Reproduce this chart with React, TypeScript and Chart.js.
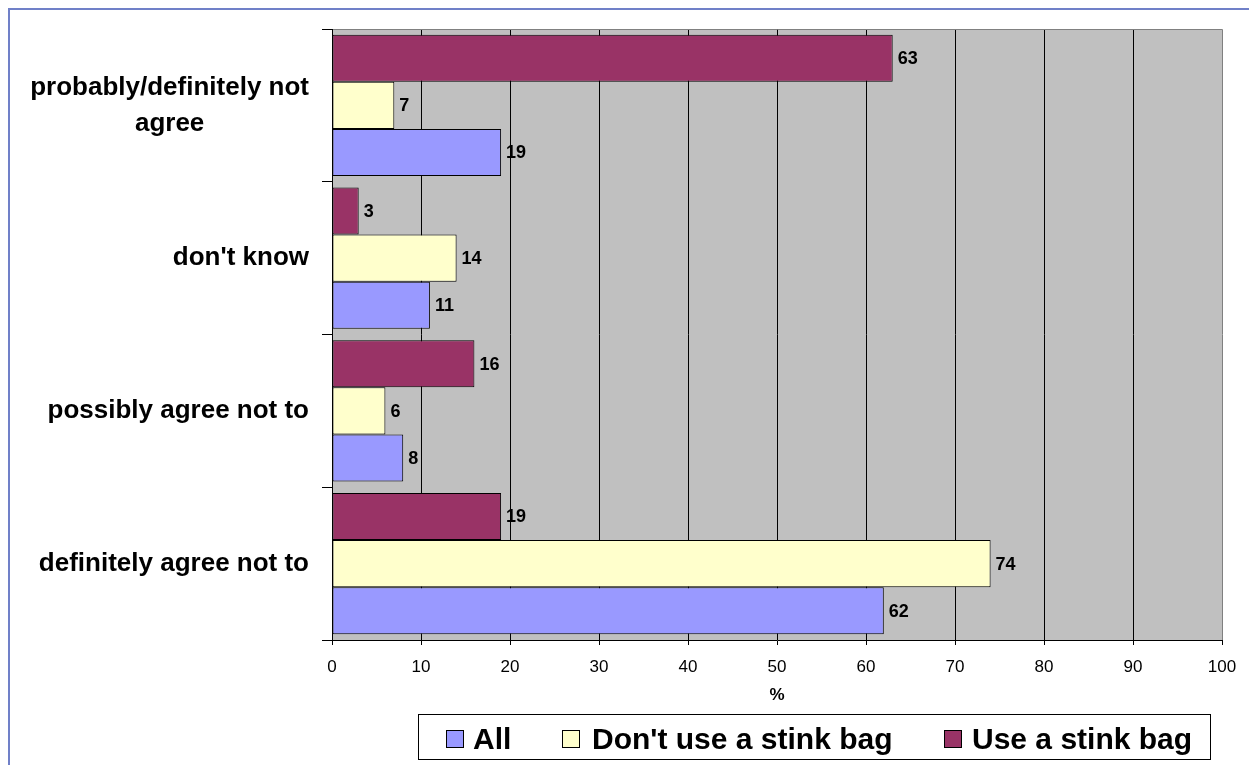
import React, { useEffect, useRef } from "react";
import { Chart, registerables } from "chart.js";

Chart.register(...registerables);

const categories: string[][] = [
  ["probably/definitely not", "agree"],
  ["don't know"],
  ["possibly agree not to"],
  ["definitely agree not to"],
];
const useStinkBag = [63, 3, 16, 19];
const dontUseStinkBag = [7, 14, 6, 74];
const allRespondents = [19, 11, 8, 62];
const xTicks = [0, 10, 20, 30, 40, 50, 60, 70, 80, 90, 100];

const FONT = "'Liberation Sans', Arial, sans-serif";
const C_ALL = "#9999FF";
const C_DONT = "#FFFFCC";
const C_USE = "#993366";

const legendItems = [
  { label: "All", color: C_ALL, left: 28, textLeft: 55 },
  { label: "Don't use a stink bag", color: C_DONT, left: 144, textLeft: 174 },
  { label: "Use a stink bag", color: C_USE, left: 526, textLeft: 554 },
];

const decorPlugin = {
  id: "decor",
  beforeDraw(chart: any) {
    const { ctx, chartArea: a } = chart;
    ctx.save();
    ctx.fillStyle = "#C0C0C0";
    ctx.fillRect(a.left, a.top, a.right - a.left, a.bottom - a.top);
    ctx.restore();
  },
  afterDraw(chart: any) {
    const { ctx, chartArea: a } = chart;
    const yScale = chart.scales.y;
    ctx.save();
    ctx.strokeStyle = "#808080";
    ctx.lineWidth = 1;
    ctx.beginPath();
    ctx.moveTo(a.left, a.top + 0.5);
    ctx.lineTo(a.right + 0.5, a.top + 0.5);
    ctx.lineTo(a.right + 0.5, a.bottom);
    ctx.stroke();
    ctx.strokeStyle = "#000";
    ctx.beginPath();
    ctx.moveTo(a.left + 0.5, a.top);
    ctx.lineTo(a.left + 0.5, a.bottom + 1);
    ctx.stroke();

    ctx.fillStyle = "#000";
    ctx.font = `bold 26px ${FONT}`;
    ctx.textAlign = "center";
    ctx.textBaseline = "middle";
    const rightEdge = 299;
    const lh = 36;
    categories.forEach((lines, i) => {
      const cy = yScale.getPixelForValue(i);
      const w = Math.max(...lines.map((l) => ctx.measureText(l).width));
      const cx = rightEdge - w / 2;
      const start = cy - ((lines.length - 1) * lh) / 2;
      lines.forEach((l, j) => ctx.fillText(l, cx, start + j * lh));
    });

    ctx.font = `bold 18px ${FONT}`;
    ctx.textAlign = "left";
    chart.data.datasets.forEach((ds: any, di: number) => {
      const meta = chart.getDatasetMeta(di);
      meta.data.forEach((el: any, i: number) => {
        ctx.fillText(String(ds.data[i]), el.x + 5, el.y + 1);
      });
    });

    ctx.font = `bold 17px ${FONT}`;
    ctx.textAlign = "center";
    ctx.fillText("%", (a.left + a.right) / 2, 685);
    ctx.restore();
  },
};

export default function App() {
  const ref = useRef<HTMLCanvasElement | null>(null);
  useEffect(() => {
    if (!ref.current) return;
    const chart = new Chart(ref.current, {
      type: "bar",
      data: {
        labels: categories.map((c) => c.join(" ")),
        datasets: [
          { label: "Use a stink bag", data: useStinkBag, backgroundColor: C_USE },
          { label: "Don't use a stink bag", data: dontUseStinkBag, backgroundColor: C_DONT },
          { label: "All", data: allRespondents, backgroundColor: C_ALL },
        ].map((d) => ({
          ...d,
          borderColor: "#000",
          borderWidth: 1,
          borderSkipped: false,
          categoryPercentage: 0.925,
          barPercentage: 1,
        })),
      },
      options: {
        indexAxis: "y",
        animation: false,
        responsive: false,
        layout: { padding: { top: 19, right: 35, left: 0, bottom: 0 } },
        plugins: { legend: { display: false }, tooltip: { enabled: false } },
        scales: {
          x: {
            min: 0,
            max: 100,
            afterBuildTicks: (s: any) => {
              s.ticks = xTicks.map((v) => ({ value: v }));
            },
            afterFit: (s: any) => {
              s.height = 125;
            },
            grid: {
              color: (c: any) => (c.index === 10 ? "rgba(0,0,0,0)" : "#000"),
              tickColor: "#000",
              tickLength: 5,
              lineWidth: 1,
            },
            border: { display: true, color: "#000", width: 1 },
            ticks: {
              color: "#000",
              font: { family: FONT, size: 17 },
              padding: 12,
              maxRotation: 0,
            },
          },
          y: {
            afterFit: (s: any) => {
              s.width = 322;
            },
            grid: {
              drawOnChartArea: false,
              drawTicks: true,
              tickLength: 10,
              tickColor: "#000",
              color: "#000",
            },
            border: { display: false },
            ticks: { display: false },
          },
        },
      },
      plugins: [decorPlugin],
    });
    return () => chart.destroy();
  }, []);

  return (
    <div
      style={{
        position: "relative",
        width: 1247,
        height: 755,
        borderTop: "2px solid #7080C8",
        borderLeft: "2px solid #7080C8",
        overflow: "hidden",
      }}
    >
      <canvas ref={ref} width={1247} height={755} style={{ display: "block" }} />
      <div
        style={{
          position: "absolute",
          left: 408,
          top: 704,
          width: 791,
          height: 44,
          border: "1px solid #000",
          background: "#fff",
          fontFamily: FONT,
        }}
      >
        {legendItems.map((it) => (
          <React.Fragment key={it.label}>
            <div
              style={{
                position: "absolute",
                left: it.left - 1,
                top: 15,
                width: 16,
                height: 16,
                background: it.color,
                border: "1px solid #000",
              }}
            />
            <div
              style={{
                position: "absolute",
                left: it.textLeft - 1,
                top: 2,
                lineHeight: "44px",
                fontSize: 30,
                fontWeight: "bold",
                color: "#000",
                whiteSpace: "nowrap",
              }}
            >
              {it.label}
            </div>
          </React.Fragment>
        ))}
      </div>
    </div>
  );
}
